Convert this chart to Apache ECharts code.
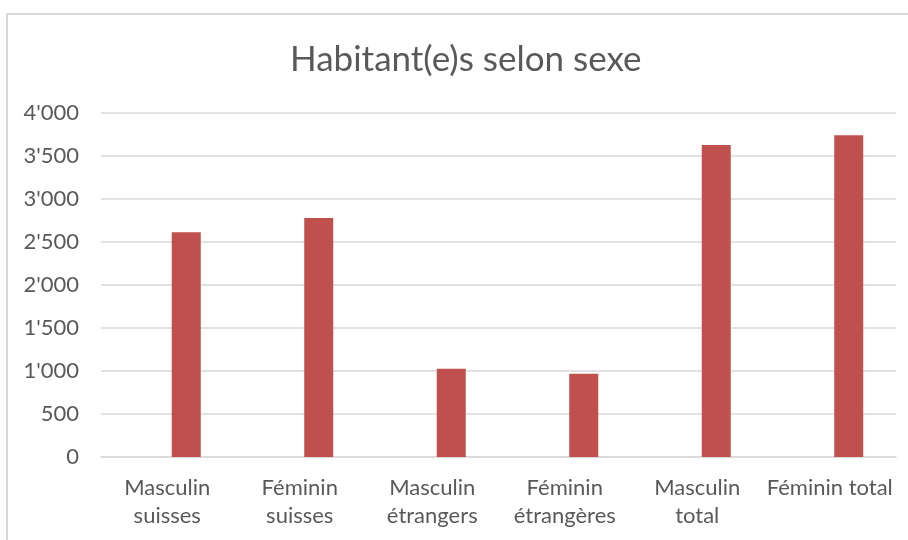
<!DOCTYPE html>
<html>
<head>
<meta charset="utf-8">
<script src="https://cdn.jsdelivr.net/npm/echarts@6/dist/echarts.min.js"></script>
<style>
  html, body { margin: 0; padding: 0; background: #fff; }
  #frame { position: absolute; left: 6px; top: 13px; width: 920px; height: 560px;
           border-top: 2px solid #d9d9d9; border-left: 2px solid #d9d9d9; }
  #chart { position: absolute; left: 0; top: 0; width: 908px; height: 540px; }
</style>
</head>
<body>
<div id="frame"></div>
<div id="chart"></div>
<script>
// données du graphique
var categories = ['Masculin\nsuisses', 'Féminin\nsuisses', 'Masculin\nétrangers',
                  'Féminin\nétrangères', 'Masculin\ntotal', 'Féminin total'];
var emptySeries = [null, null, null, null, null, null];
var habitants = [2612, 2779, 1026, 968, 3628, 3740];
var yTicks = [0, 500, 1000, 1500, 2000, 2500, 3000, 3500, 4000];

var font = 'Lato, "Open Sans", sans-serif';

function fmt(v) {
    // séparateur de milliers suisse
    var s = String(v);
    return s.length > 3 ? s.slice(0, s.length - 3) + "'" + s.slice(-3) : s;
}

var myChart = echarts.init(document.getElementById('chart'));
var option = {
    backgroundColor: 'transparent',
    animation: false,
    title: {
        text: 'Habitant(e)s selon sexe',
        left: 285,
        top: 37,
        textStyle: { fontFamily: font, fontSize: 35, fontWeight: 'normal', color: '#595959' }
    },
    grid: { left: 101, right: 12, top: 113, bottom: 83 },
    xAxis: {
        type: 'category',
        data: categories,
        axisLine: { lineStyle: { color: '#d9d9d9', width: 1.5 } },
        axisTick: { show: false },
        axisLabel: {
            interval: 0,
            margin: 17,
            fontFamily: font,
            fontSize: 22,
            lineHeight: 28,
            color: '#595959'
        }
    },
    yAxis: {
        type: 'value',
        min: yTicks[0],
        max: yTicks[yTicks.length - 1],
        interval: 500,
        axisLine: { show: false },
        axisTick: { show: false },
        splitLine: { lineStyle: { color: '#d9d9d9', width: 1.5 } },
        axisLabel: {
            margin: 22,
            fontFamily: font,
            fontSize: 22,
            color: '#595959',
            formatter: fmt
        }
    },
    series: [
        {
            name: '',
            type: 'bar',
            barWidth: 29,
            barGap: '31%',
            data: emptySeries
        },
        {
            name: 'Habitant(e)s',
            type: 'bar',
            barWidth: 29,
            barGap: '31%',
            itemStyle: { color: '#c0504d' },
            data: habitants
        }
    ]
};
myChart.setOption(option);
</script>
</body>
</html>
